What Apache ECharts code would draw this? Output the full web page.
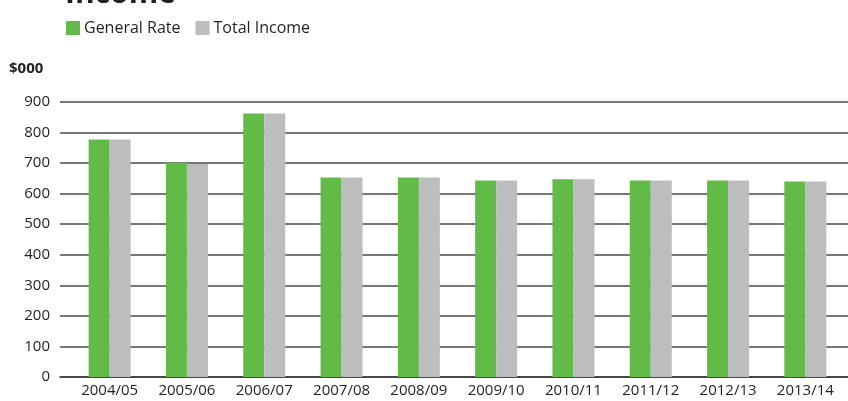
<!DOCTYPE html>
<html>
<head>
<meta charset="utf-8">
<script src="https://cdn.jsdelivr.net/npm/echarts@6/dist/echarts.min.js"></script>
<style>
  html, body { margin: 0; padding: 0; background: #fff; }
  #chart { width: 848px; height: 401px; }
</style>
</head>
<body>
<div id="chart"></div>
<script>
// Income by financial year, in $000
const years = ['2004/05', '2005/06', '2006/07', '2007/08', '2008/09', '2009/10', '2010/11', '2011/12', '2012/13', '2013/14'];
const generalRate = [777, 701, 862, 653, 653, 643, 647, 643, 643, 640];
const totalIncome = [777, 697, 862, 653, 653, 643, 647, 643, 643, 640];
const yTicks = [0, 100, 200, 300, 400, 500, 600, 700, 800, 900];

const FONT = '"Open Sans", Lato, sans-serif';
const TEXT = '#231f20';

const chart = echarts.init(document.getElementById('chart'));
chart.setOption({
  animation: false,
  backgroundColor: '#ffffff',
  title: {
    text: 'Income',
    left: 60,
    top: -26,
    textStyle: { fontFamily: FONT, fontSize: 30, fontWeight: 'bold', color: TEXT }
  },
  legend: {
    left: 61,
    top: 15,
    icon: 'rect',
    itemWidth: 14,
    itemHeight: 14,
    itemGap: 15,
    textStyle: { fontFamily: FONT, fontSize: 16, color: TEXT, padding: [0, 0, 0, -1] },
    data: ['General Rate', 'Total Income']
  },
  graphic: [{
    type: 'text',
    left: 9,
    top: 61,
    style: { text: '$000', font: 'bold 15px ' + FONT, fill: TEXT }
  }],
  grid: [
    // bars
    { left: 71, right: 4, top: 102, bottom: 24 },
    // gridlines and value labels
    { left: 60, right: 0, top: 102, bottom: 24 }
  ],
  xAxis: [
    {
      type: 'category', gridIndex: 0, data: years,
      axisLine: { show: false }, axisTick: { show: false },
      axisLabel: { fontFamily: FONT, fontSize: 15, color: TEXT, margin: 6 }
    },
    {
      type: 'category', gridIndex: 1, data: years,
      axisLine: { show: true, lineStyle: { color: '#3a3a3a', width: 1.5 } },
      axisTick: { show: false }, axisLabel: { show: false }
    }
  ],
  yAxis: [
    {
      type: 'value', gridIndex: 0, min: yTicks[0], max: yTicks[yTicks.length - 1], interval: 100,
      axisLine: { show: false }, axisTick: { show: false }, axisLabel: { show: false },
      splitLine: { show: false }
    },
    {
      type: 'value', gridIndex: 1, min: yTicks[0], max: yTicks[yTicks.length - 1], interval: 100,
      axisLine: { show: false }, axisTick: { show: false },
      axisLabel: { fontFamily: FONT, fontSize: 15, color: TEXT, margin: 10 },
      splitLine: { show: true, lineStyle: { color: '#4a4a4a', width: 1.5 } }
    }
  ],
  series: [
    {
      name: 'General Rate', type: 'bar', xAxisIndex: 0, yAxisIndex: 0,
      data: generalRate, barWidth: 21, barGap: '0%',
      itemStyle: { color: '#62bb46' }, z: 3
    },
    {
      name: 'Total Income', type: 'bar', xAxisIndex: 0, yAxisIndex: 0,
      data: totalIncome, barWidth: 21, barGap: '0%',
      itemStyle: { color: '#bcbdbf' }, z: 3
    }
  ]
});
</script>
</body>
</html>
